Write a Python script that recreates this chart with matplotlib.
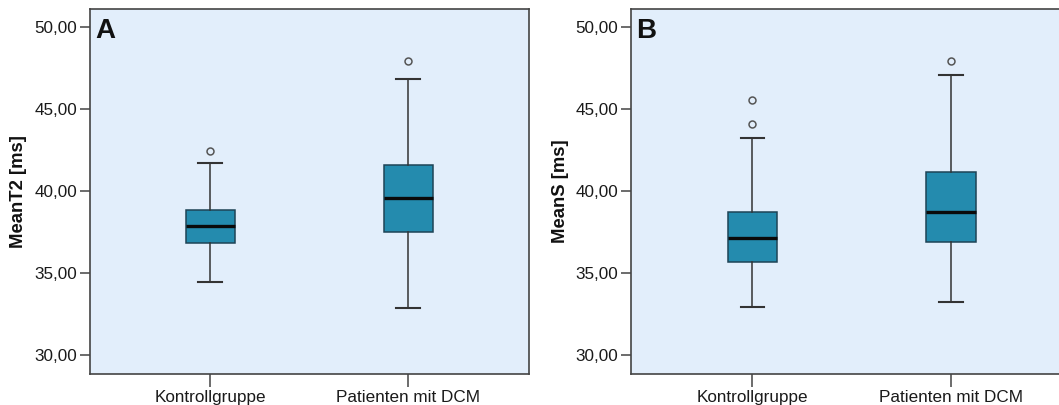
import matplotlib
matplotlib.use("Agg")
import matplotlib.pyplot as plt

plt.rcParams['font.family'] = ['Liberation Sans', 'DejaVu Sans']

groups = ["Kontrollgruppe", "Patienten mit DCM"]
yticks = [30, 35, 40, 45, 50]

# Panel A: MeanT2
A_med = [37.88, 39.57]
A_q1 = [36.83, 37.53]
A_q3 = [38.85, 41.57]
A_wlo = [34.48, 32.90]
A_whi = [41.69, 46.85]
A_fliers = [[42.46], [47.90]]

# Panel B: MeanS
B_med = [37.12, 38.74]
B_q1 = [35.65, 36.89]
B_q3 = [38.71, 41.14]
B_wlo = [32.93, 33.24]
B_whi = [43.24, 47.07]
B_fliers = [[45.53, 44.06], [47.92]]

BG = '#E2EEFB'
BOX = '#248BAE'
SPINE = '#444444'

fig = plt.figure(figsize=(10.59, 4.05), dpi=100)
axA = fig.add_axes([0.0846, 0.0775, 0.4149, 0.900])
axB = fig.add_axes([0.5956, 0.0775, 0.4054, 0.900])


def draw(ax, med, q1, q3, wlo, whi, fliers, ylabel, letter, xlim):
    stats = []
    for i in range(len(groups)):
        stats.append(dict(med=med[i], q1=q1[i], q3=q3[i], whislo=wlo[i],
                          whishi=whi[i], fliers=fliers[i], label=groups[i]))
    ax.bxp(stats, positions=[1, 2], widths=0.25, patch_artist=True,
           showfliers=True,
           boxprops=dict(facecolor=BOX, edgecolor='#1E4456', linewidth=1.1),
           medianprops=dict(color='#0a0a0a', linewidth=2.4),
           whiskerprops=dict(color='#333333', linewidth=1.1),
           capprops=dict(color='#333333', linewidth=1.5),
           capwidths=0.12,
           flierprops=dict(marker='o', markersize=5, markerfacecolor='none',
                           markeredgecolor='#555555', markeredgewidth=1.1))
    ax.set_facecolor(BG)
    ax.set_xlim(*xlim)
    ax.set_ylim(28.87, 51.09)
    ax.set_yticks(yticks)
    ax.set_yticklabels([f"{v:.2f}".replace('.', ',') for v in yticks])
    ax.set_xticks([1, 2])
    ax.set_xticklabels(groups)
    ax.tick_params(axis='both', direction='out', length=7, width=1.1,
                   color=SPINE, labelsize=12.3, labelcolor='#1a1a1a', pad=2)
    ax.tick_params(axis='x', length=9, pad=3)
    for s in ax.spines.values():
        s.set_color(SPINE)
        s.set_linewidth(1.2)
    ax.set_ylabel(ylabel, fontsize=13.3, fontweight='bold', color='#111111')
    ax.text(0.013, 0.975, letter, transform=ax.transAxes, fontsize=20,
            fontweight='bold', va='top', ha='left', color='#111111')


draw(axA, A_med, A_q1, A_q3, A_wlo, A_whi, A_fliers, "MeanT2 [ms]", "A", (0.39, 2.61))
draw(axB, B_med, B_q1, B_q3, B_wlo, B_whi, B_fliers, "MeanS [ms]", "B", (0.387, 2.55))
axA.yaxis.set_label_coords(-0.1425, 0.5)
axB.yaxis.set_label_coords(-0.144, 0.5)

fig.savefig("out.png", dpi=100)
